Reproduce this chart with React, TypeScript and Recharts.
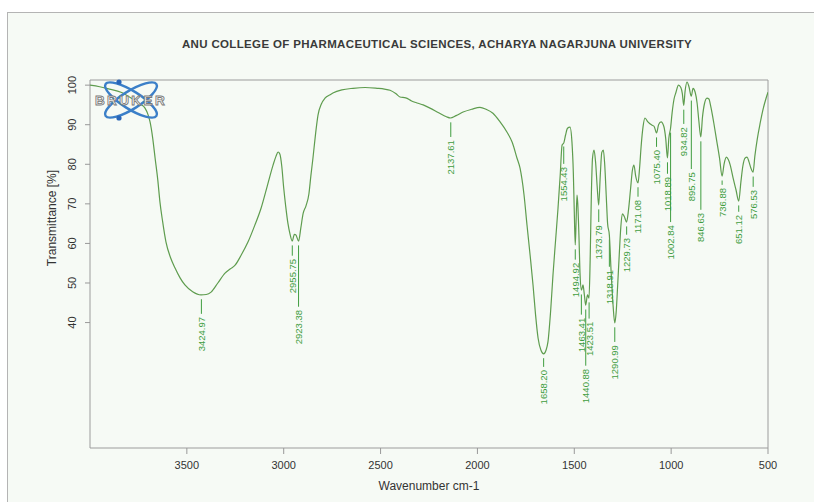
import React from 'react';
import { ComposedChart, Line, Scatter, XAxis, YAxis, ReferenceLine, ReferenceArea } from 'recharts';

// spectrum (wavenumber cm-1 -> transmittance %)
const wavenumbers = [
  4000, 3950, 3900, 3840, 3780, 3740, 3716, 3700, 3690, 3676, 3664, 3650, 3639, 3625, 3608, 3585, 3561, 3535, 3510, 3470,
  3427, 3400, 3375, 3340, 3303, 3275, 3251, 3220, 3184, 3150, 3117, 3085, 3055, 3040, 3029, 3020, 3010, 3000, 2990, 2978,
  2968, 2956, 2945, 2938, 2923, 2912, 2900, 2885, 2870, 2860, 2849, 2836, 2823, 2805, 2787, 2760, 2746, 2700, 2642, 2580,
  2518, 2480, 2451, 2420, 2400, 2370, 2340, 2312, 2280, 2245, 2200, 2160, 2140, 2110, 2074, 2030, 1987, 1955, 1920, 1883,
  1847, 1820, 1796, 1780, 1760, 1744, 1728, 1713, 1700, 1687, 1672, 1658, 1646, 1636, 1622, 1610, 1597, 1584, 1573, 1563,
  1554, 1545, 1535, 1522, 1512, 1505, 1500, 1495, 1491, 1486, 1482, 1476, 1470, 1463, 1455, 1448, 1441, 1432, 1424, 1418,
  1412, 1406, 1398, 1390, 1382, 1374, 1366, 1358, 1350, 1343, 1335, 1328, 1319, 1310, 1300, 1291, 1284, 1276, 1268, 1260,
  1252, 1242, 1230, 1220, 1210, 1200, 1192, 1183, 1171, 1163, 1155, 1145, 1135, 1120, 1100, 1088, 1075, 1065, 1052, 1038,
  1028, 1019, 1012, 1003, 995, 985, 975, 962, 950, 942, 935, 928, 918, 908, 896, 887, 876, 866, 857, 847,
  838, 828, 815, 805, 795, 780, 765, 750, 737, 727, 715, 705, 695, 680, 665, 651, 640, 630, 618, 608,
  598, 588, 577, 568, 555, 540, 525, 510, 500,
];
const transmittance = [
  100.0, 99.6, 99.0, 98.2, 96.5, 95.2, 94.2, 92.5, 90.7, 86.5, 81.6, 76.0, 70.5, 65.5, 60.4, 56.5, 53.8, 51.3, 49.5, 47.8,
  47.0, 47.1, 47.7, 50.0, 52.5, 53.6, 54.5, 57.0, 60.4, 64.5, 68.9, 74.5, 79.8, 82.0, 83.1, 82.6, 79.5, 74.0, 69.5, 65.0,
  62.5, 60.6, 62.3, 62.2, 60.6, 63.8, 67.5, 69.5, 72.5, 77.0, 81.6, 87.5, 92.4, 95.3, 96.7, 97.6, 98.0, 98.8, 99.2, 99.4,
  99.2, 99.0, 98.7, 97.8, 97.0, 96.8, 96.0, 95.5, 95.0, 94.2, 93.0, 92.0, 91.7, 92.3, 93.2, 93.9, 94.4, 93.9, 92.9, 90.7,
  88.1, 85.5, 81.6, 79.0, 72.5, 64.6, 57.0, 49.5, 42.0, 36.1, 33.0, 32.1, 33.0, 35.1, 43.0, 52.0, 60.5, 68.9, 77.0, 84.8,
  85.4, 87.4, 89.1, 89.4, 85.6, 78.0, 68.0, 59.6, 65.0, 72.2, 70.0, 62.0, 52.0, 48.2, 49.5, 47.0, 44.4, 47.0, 46.2, 56.0,
  72.0, 81.5, 83.6, 80.5, 74.5, 69.7, 77.0, 83.0, 83.6, 80.0, 72.0, 65.0, 62.1, 53.0, 44.5, 39.9, 42.5, 49.5, 57.0, 64.0,
  67.5, 66.8, 65.4, 68.5, 73.5, 78.5, 79.8, 77.0, 75.3, 79.0, 84.5, 89.5, 91.7, 90.7, 89.9, 89.6, 87.9, 90.0, 90.7, 89.6,
  86.5, 81.6, 86.5, 89.1, 93.0, 96.5, 98.2, 100.0, 99.4, 97.8, 94.9, 98.5, 100.8, 99.6, 97.2, 99.2, 98.2, 95.5, 91.0, 86.9,
  92.0, 95.3, 96.7, 96.5, 94.5, 90.5, 86.0, 81.5, 77.0, 80.0, 81.8, 81.2, 79.8, 76.5, 73.5, 70.7, 75.5, 79.5, 81.6, 81.8,
  80.6, 79.0, 78.0, 82.0, 86.5, 90.5, 94.0, 96.7, 98.2,
];

// peak picks: position, text, transmittance at the band, transmittance where the label ends
const peakWavenumbers = [3424.97, 2955.75, 2923.38, 2137.61, 1658.2, 1554.43, 1494.92, 1463.41, 1440.88, 1423.51, 1373.79, 1318.91,
  1290.99, 1229.73, 1171.08, 1075.4, 1018.89, 1002.84, 934.82, 895.75, 846.63, 736.88, 651.12, 576.53];
const peakLabels = ['3424.97', '2955.75', '2923.38', '2137.61', '1658.20', '1554.43', '1494.92', '1463.41', '1440.88', '1423.51',
  '1373.79', '1318.91', '1290.99', '1229.73', '1171.08', '1075.40', '1018.89', '1002.84', '934.82', '895.75', '846.63', '736.88',
  '651.12', '576.53'];
const peakBands = [47.0, 60.6, 60.6, 91.7, 32.1, 85.6, 59.6, 48.2, 44.4, 46.2, 69.7, 62.1, 39.9, 65.4, 75.3, 87.9, 81.6, 89.1,
  94.9, 97.2, 86.9, 77.0, 70.7, 78.0];
const peakLabelEnds = [41.4, 56.1, 43.2, 86.1, 28.0, 79.3, 55.1, 41.2, 28.3, 40.2, 64.6, 53.3, 34.3, 61.4, 71.0, 83.6, 76.8, 64.6,
  89.4, 78.0, 67.7, 74.0, 67.2, 73.5];

const xTicks = [3500, 3000, 2500, 2000, 1500, 1000, 500];
const yTicks = [40, 50, 60, 70, 80, 90, 100];
const yDomain = [8.3, 101.3];

const spectrum = wavenumbers.map((wn, i) => ({ wn, t: transmittance[i] }));
const peaks = peakWavenumbers.map((wn, i) => ({ wn, t: peakLabelEnds[i], band: peakBands[i], label: peakLabels[i] }));

const FONT = '"Liberation Sans", Arial, sans-serif';
const GREEN = '#3f9d3f';

/* vertical y tick labels */
const YTick = ({ x, y, payload }: any) => {
    const bx = x - 7;
    return (
        <text x={bx} y={y} transform={`rotate(-90, ${bx}, ${y})`} textAnchor="middle"
            fontSize={11} fontFamily={FONT} fill="#333">{payload.value}</text>
    );
};

/* rotated peak text, ends at the point */
const PeakText = ({ cx, cy, payload }: any) => (
    <text x={cx} y={cy} transform={`rotate(-90, ${cx}, ${cy})`} textAnchor="end" dy="0.36em"
        fontSize={9.5} fontFamily={FONT} fill={GREEN}>{payload.label}</text>
);

const YLabel = ({ viewBox }: any) => {
    const x = viewBox.x + 44;
    const y = viewBox.y + viewBox.height / 2 - 46;
    return (
        <text x={x} y={y} transform={`rotate(-90, ${x}, ${y})`} textAnchor="middle" dy="0.35em"
            fontSize={12} fontFamily={FONT} fill="#333">Transmittance [%]</text>
    );
};

const BrukerLogo = () => (
    <svg width={90} height={50} style={{ position: 'absolute', left: 86, top: 76 }}>
        <g transform="translate(45,24)">
            <ellipse rx={30} ry={9} transform="rotate(32)" fill="none" stroke="#3b7fc8" strokeWidth={2.4} />
            <ellipse rx={30} ry={9} transform="rotate(-32)" fill="none" stroke="#3b7fc8" strokeWidth={2.4} />
            <circle cx={-12} cy={-18} r={2.6} fill="#2a66b8" />
            <circle cx={-12} cy={18} r={2.6} fill="#2a66b8" />
            <text x={0} y={5} textAnchor="middle" fontSize={13.5} fontWeight="bold" fontFamily={FONT}
                letterSpacing={2.4} fill="#fff" stroke="#7a7a7a" strokeWidth={0.9}>BRUKER</text>
        </g>
    </svg>
);

export default function App() {
    return (
        <div style={{ position: 'absolute', left: 0, top: 0, width: 814, height: 502, background: '#fff', overflow: 'hidden' }}>
            <div style={{ position: 'absolute', left: 7, top: 12, right: -2, bottom: -2, background: '#f6faf5',
                borderLeft: '1px solid #b4b4b4', borderTop: '1px solid #b4b4b4' }} />
            <div style={{ position: 'absolute', left: 0, width: 874, top: 38, textAlign: 'center', fontFamily: FONT,
                fontWeight: 'bold', fontSize: 11.5, letterSpacing: 0.35, color: '#3a3a3a', whiteSpace: 'nowrap' }}>
                ANU COLLEGE OF PHARMACEUTICAL SCIENCES, ACHARYA NAGARJUNA UNIVERSITY
            </div>
            <div style={{ position: 'absolute', left: 0, top: 0 }}>
                <ComposedChart width={814} height={502} margin={{ top: 80, right: 46, bottom: 0, left: 8 }}>
                    <XAxis type="number" dataKey="wn" domain={[500, 4000]} reversed ticks={xTicks}
                        allowDataOverflow height={54} tickSize={6} tickMargin={7}
                        axisLine={false} tickLine={{ stroke: '#999' }}
                        tick={{ fontSize: 11, fontFamily: FONT, fill: '#333' }}
                        label={{ value: 'Wavenumber cm-1', position: 'insideBottom', offset: 12, fontSize: 12, fontFamily: FONT, fill: '#333' }} />
                    <YAxis type="number" dataKey="t" domain={yDomain} ticks={yTicks} allowDataOverflow width={82}
                        tickSize={5} axisLine={false} tickLine={{ stroke: '#999' }} tick={<YTick />}
                        label={{ content: <YLabel /> }} />
                    <ReferenceArea x1={4000} x2={500} y1={yDomain[0]} y2={yDomain[1]} fill="none" stroke="#9c9c9c" strokeWidth={1} />
                    {peaks.map(p => (
                        <ReferenceLine key={p.label} segment={[{ x: p.wn, y: p.band - 1.1 }, { x: p.wn, y: p.t + 0.8 }]}
                            stroke={GREEN} strokeWidth={1} />
                    ))}
                    <Line data={spectrum} dataKey="t" type="monotone" stroke="#5e9c4e" strokeWidth={1.2} dot={false}
                        isAnimationActive={false} />
                    <Scatter data={peaks} dataKey="t" shape={<PeakText />} isAnimationActive={false} />
                </ComposedChart>
            </div>
            <BrukerLogo />
        </div>
    );
}
